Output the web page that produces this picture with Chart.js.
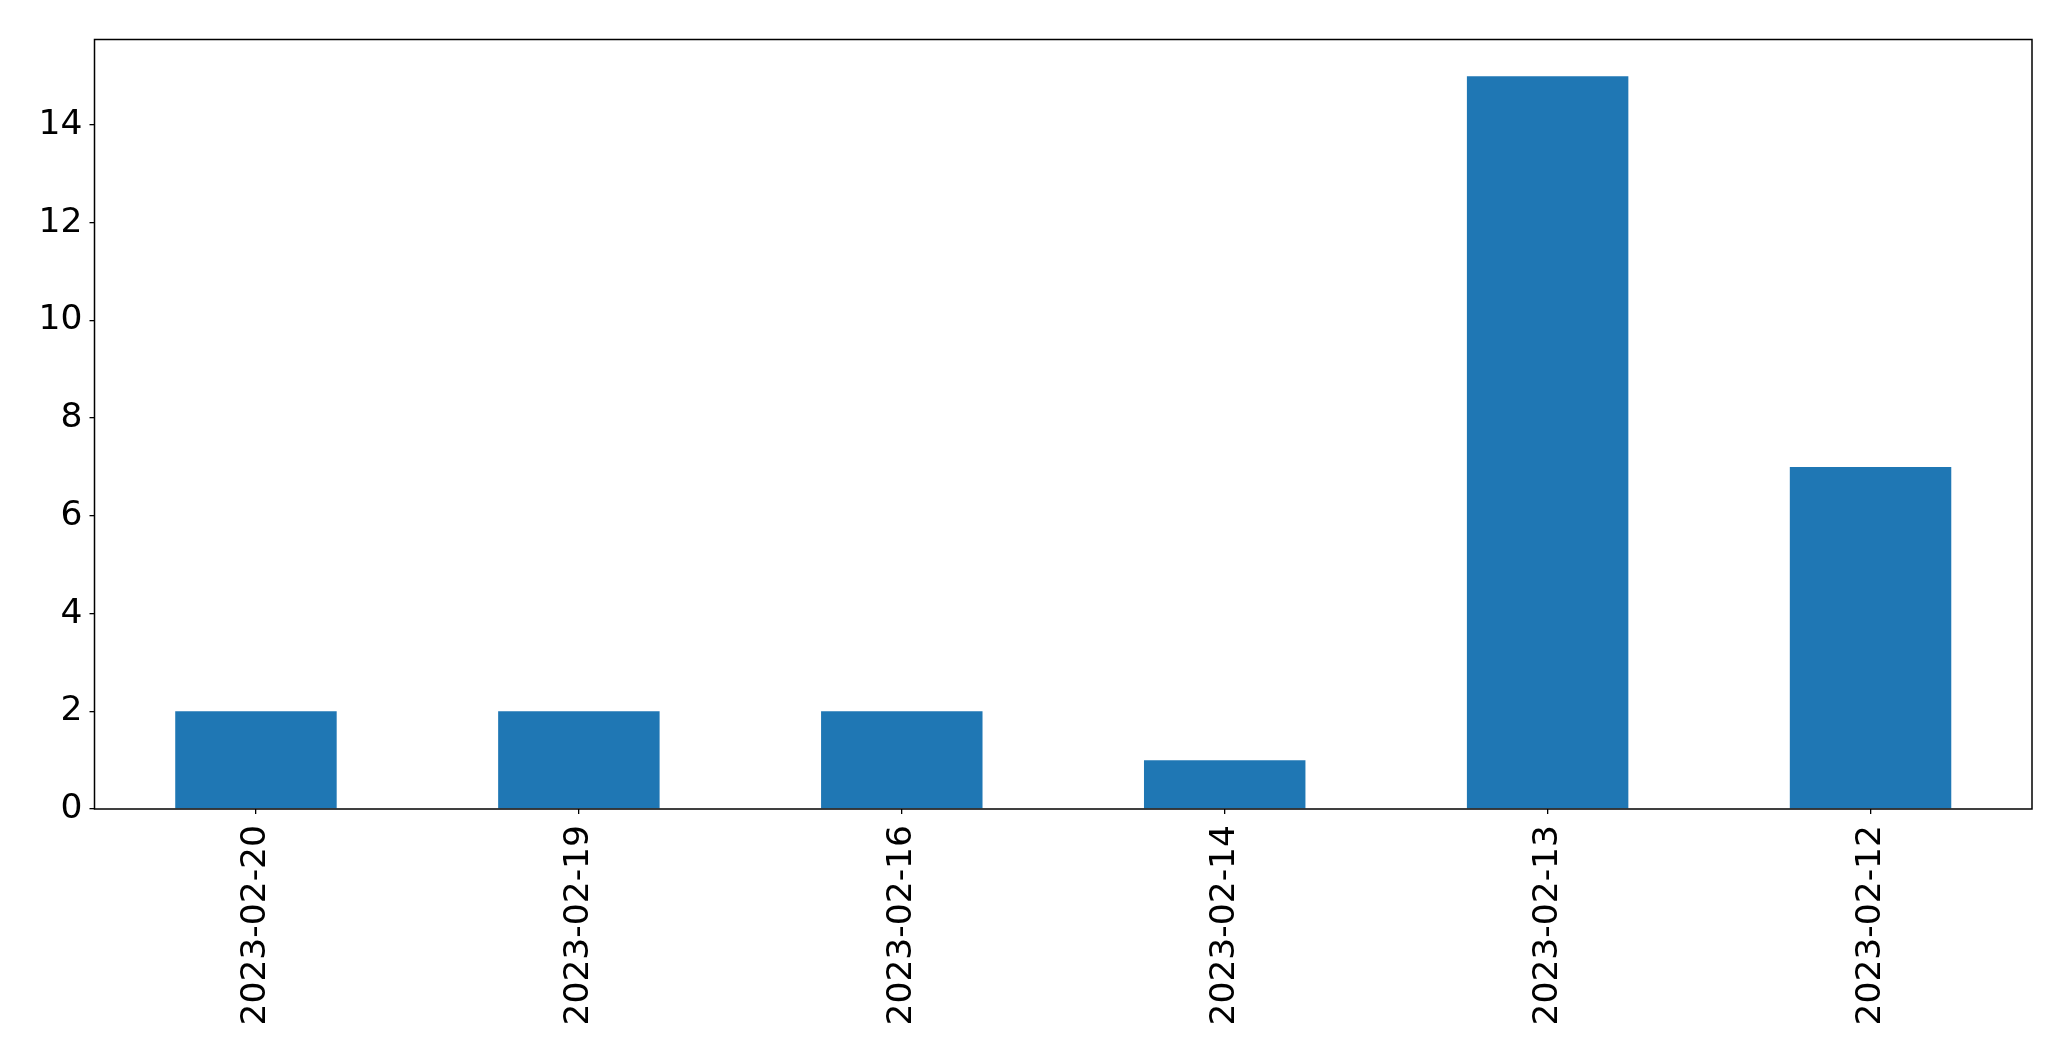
<!DOCTYPE html>
<html>
<head>
<meta charset="utf-8">
<script src="https://cdn.jsdelivr.net/npm/chart.js@4/dist/chart.umd.min.js"></script>
<style>
html,body{margin:0;padding:0;background:#fff;}
canvas{display:block;}
</style>
</head>
<body>
<canvas id="c" width="2071" height="1061"></canvas>
<script>
const categories = ['2023-02-20','2023-02-19','2023-02-16','2023-02-14','2023-02-13','2023-02-12'];
const counts = [2, 2, 2, 1, 15, 7];
const yMax = 15.75;

const frame = {
  id: 'frame',
  afterDatasetsDraw(chart) {
    const {ctx, chartArea: a} = chart;
    ctx.save();
    ctx.strokeStyle = '#000';
    ctx.lineWidth = 1.5;
    ctx.strokeRect(a.left, a.top, a.right - a.left, a.bottom - a.top);
    ctx.restore();
  }
};

const font = {family: '"DejaVu Sans", sans-serif', size: 34.5};

new Chart(document.getElementById('c'), {
  type: 'bar',
  data: {
    labels: categories,
    datasets: [{
      data: counts,
      backgroundColor: '#1f77b4',
      borderWidth: 0,
      barPercentage: 0.5,
      categoryPercentage: 1.0
    }]
  },
  options: {
    responsive: false,
    animation: false,
    layout: {padding: {top: 39.5, right: 39, left: 0, bottom: 0}},
    plugins: {legend: {display: false}, tooltip: {enabled: false}},
    scales: {
      x: {
        offset: true,
        grid: {display: true, drawOnChartArea: false, drawTicks: true, tickLength: 5, color: '#000', lineWidth: 1.3, offset: false},
        border: {display: false},
        ticks: {color: '#000', font: font, minRotation: 90, maxRotation: 90, padding: 11, autoSkip: false},
        afterFit(scale) { scale.height = 252; }
      },
      y: {
        min: 0,
        max: yMax,
        grid: {display: true, drawOnChartArea: false, drawTicks: true, tickLength: 5, color: '#000', lineWidth: 1.3},
        border: {display: false},
        ticks: {color: '#000', font: font, stepSize: 2, includeBounds: false, padding: 7},
        afterFit(scale) { scale.width = 94.5; }
      }
    }
  },
  plugins: [frame]
});
</script>
</body>
</html>
